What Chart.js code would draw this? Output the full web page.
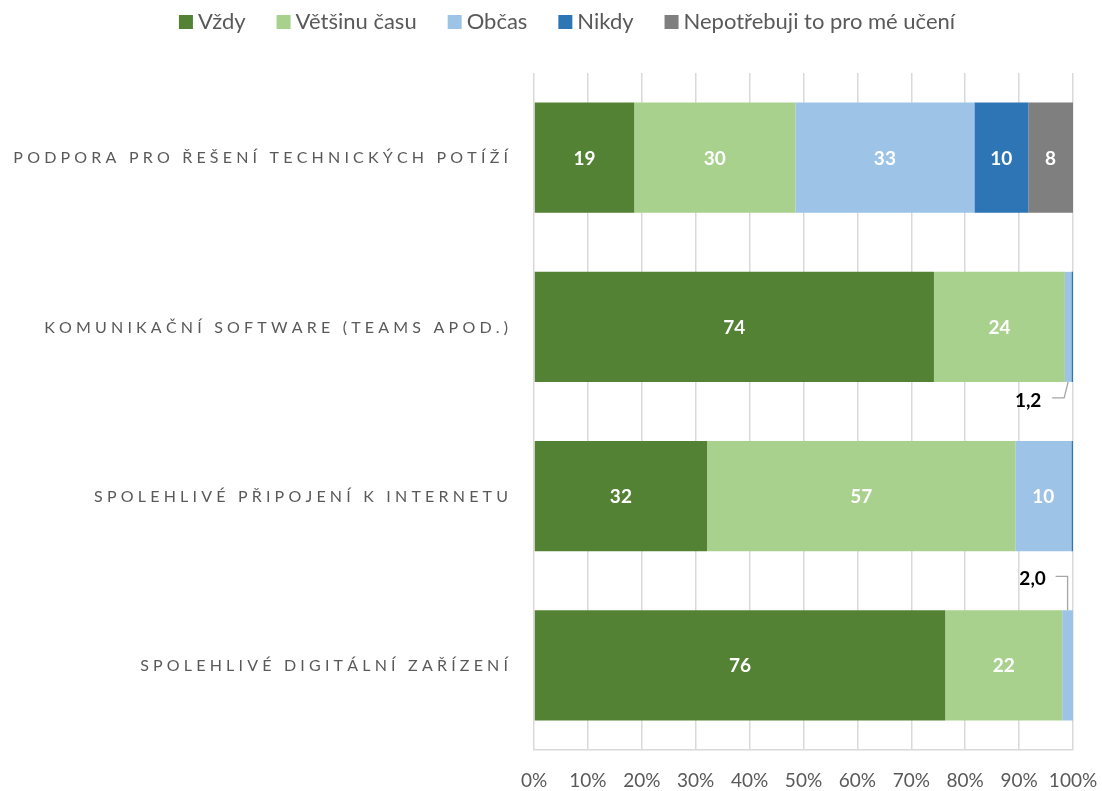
<!DOCTYPE html>
<html lang="cs">
<head>
<meta charset="utf-8">
<title>Podmínky pro online výuku</title>
<script src="https://cdn.jsdelivr.net/npm/chart.js@4.4.1/dist/chart.umd.min.js"></script>
<style>
  html, body { margin: 0; padding: 0; background: #fff; }
</style>
</head>
<body>
<canvas id="myChart" width="1102" height="791"></canvas>
<script>
const kategorie = [
  "PODPORA PRO ŘEŠENÍ TECHNICKÝCH POTÍŽÍ",
  "KOMUNIKAČNÍ SOFTWARE (TEAMS APOD.)",
  "SPOLEHLIVÉ PŘIPOJENÍ K INTERNETU",
  "SPOLEHLIVÉ DIGITÁLNÍ ZAŘÍZENÍ",
];
const rady = ["Vždy", "Většinu času", "Občas", "Nikdy", "Nepotřebuji to pro mé učení"];

// podíly odpovědí v %, pořadí jako kategorie
const vzdy = [18.6, 74.2, 32.1, 76.3];
const vetsinuCasu = [29.9, 24.3, 57.2, 21.7];
const obcas = [33.2, 1.2, 10.4, 2.0];
const nikdy = [10.0, 0.3, 0.3, 0];
const nepotrebuji = [8.3, 0, 0, 0];

const popiskyOsy = ["0%", "10%", "20%", "30%", "40%", "50%", "60%", "70%", "80%", "90%", "100%"];

const barvy = ["#548235", "#A9D18E", "#9DC3E6", "#2E75B6", "#7F7F7F"];
const PISMO = "Lato, 'Noto Sans', sans-serif";
const SEDA_TEXT = "#595959";

// malé hodnoty se popisují mimo pruh s vodicí čarou
const vyvody = [
  { rada: 2, radek: 1, smer: "dolu" },
  { rada: 2, radek: 3, smer: "nahoru" },
];

const grafika = document.getElementById("myChart").getContext("2d");

function jeVyvod(rada, radek) {
  return vyvody.some((v) => v.rada === rada && v.radek === radek);
}

// text s prostrkáním písmen, zarovnaný doprava
function prostrkanyText(ctx, text, pravyOkraj, y, mezera) {
  const sirky = [...text].map((ch) => ctx.measureText(ch).width);
  const celkem = sirky.reduce((a, b) => a + b, 0) + mezera * (sirky.length - 1);
  let x = pravyOkraj - celkem;
  [...text].forEach((ch, i) => {
    ctx.fillText(ch, x, y);
    x += sirky[i] + mezera;
  });
}

const popiskyKategorii = {
  id: "popiskyKategorii",
  afterDraw(chart) {
    const ctx = chart.ctx;
    const osaY = chart.scales.y;
    ctx.save();
    ctx.font = "16px " + PISMO;
    ctx.fillStyle = SEDA_TEXT;
    ctx.textAlign = "left";
    ctx.textBaseline = "alphabetic";
    kategorie.forEach((nazev, i) => {
      const y = osaY.getPixelForValue(i);
      prostrkanyText(ctx, nazev, chart.chartArea.left - 26, y + 5.8, 4.2);
    });
    ctx.restore();
  },
};

const popiskyHodnot = {
  id: "popiskyHodnot",
  afterDatasetsDraw(chart) {
    const ctx = chart.ctx;
    ctx.save();
    ctx.font = "bold 19px " + PISMO;
    ctx.textAlign = "center";
    ctx.textBaseline = "alphabetic";
    chart.data.datasets.forEach((ds, r) => {
      chart.getDatasetMeta(r).data.forEach((el, i) => {
        const v = ds.data[i];
        if (v < 5 || jeVyvod(r, i)) return;
        ctx.fillStyle = "#ffffff";
        ctx.fillText(Math.round(v).toString(), (el.x + el.base) / 2, el.y + 7);
      });
    });

    ctx.strokeStyle = "#a6a6a6";
    ctx.lineWidth = 1.3;
    vyvody.forEach((vv) => {
      const el = chart.getDatasetMeta(vv.rada).data[vv.radek];
      const v = chart.data.datasets[vv.rada].data[vv.radek];
      const cx = (el.x + el.base) / 2;
      const horni = el.y - el.height / 2;
      const dolni = el.y + el.height / 2;
      const text = v.toFixed(1).replace(".", ",");
      ctx.beginPath();
      let tx, ty;
      if (vv.smer === "dolu") {
        const ly = dolni + 16;
        ctx.moveTo(cx - 16, ly);
        ctx.lineTo(cx - 4, ly);
        ctx.lineTo(cx, dolni);
        tx = cx - 40;
        ty = ly + 2;
      } else {
        const ly = horni - 34;
        ctx.moveTo(cx - 12, ly);
        ctx.lineTo(cx, ly);
        ctx.lineTo(cx, horni);
        tx = cx - 35;
        ty = ly + 1.5;
      }
      ctx.stroke();
      ctx.fillStyle = "#000000";
      ctx.fillText(text, tx, ty + 7);
    });
    ctx.restore();
  },
};

// legenda nad grafem
const legenda = {
  id: "legenda",
  afterDraw(chart) {
    const ctx = chart.ctx;
    const box = 14, mezeraText = 5, mezeraPolozky = 31;
    ctx.save();
    ctx.font = "22px " + PISMO;
    ctx.textBaseline = "middle";
    ctx.textAlign = "left";
    const polozky = chart.data.datasets.map((ds) => ({
      text: ds.label,
      barva: ds.backgroundColor,
      sirka: box + mezeraText + ctx.measureText(ds.label).width,
    }));
    const celkem = polozky.reduce((a, p) => a + p.sirka, 0) + mezeraPolozky * (polozky.length - 1);
    let x = 567 - celkem / 2;
    const y = 22;
    polozky.forEach((p) => {
      ctx.fillStyle = p.barva;
      ctx.fillRect(x, y - box / 2, box, box);
      ctx.fillStyle = SEDA_TEXT;
      ctx.fillText(p.text, x + box + mezeraText, y);
      x += p.sirka + mezeraPolozky;
    });
    ctx.restore();
  },
};

const hodnoty = [vzdy, vetsinuCasu, obcas, nikdy, nepotrebuji];

const myChart = new Chart(grafika, {
  type: "bar",
  data: {
    labels: kategorie,
    datasets: rady.map((nazev, i) => ({
      label: nazev,
      data: hodnoty[i],
      backgroundColor: barvy[i],
      borderWidth: 0,
      barPercentage: 0.65,
      categoryPercentage: 1,
    })),
  },
  options: {
    indexAxis: "y",
    responsive: false,
    animation: false,
    devicePixelRatio: 1,
    layout: {
      padding: { top: 73, right: 29, bottom: 0, left: 0 },
    },
    plugins: {
      legend: { display: false },
      tooltip: { enabled: false },
    },
    scales: {
      x: {
        stacked: true,
        min: 0,
        max: 100,
        afterFit(scale) {
          scale.height = 41;
          // okrajové popisky se vejdou do okraje grafu
          scale.paddingLeft = 0;
          scale.paddingRight = 0;
        },
        grid: {
          color: "#d9d9d9",
          lineWidth: 1.5,
          drawTicks: false,
        },
        border: { display: true, color: "#d9d9d9", width: 1.5 },
        ticks: {
          stepSize: 10,
          autoSkip: false,
          maxRotation: 0,
          padding: 19,
          color: SEDA_TEXT,
          font: { family: PISMO, size: 19 },
          callback: (v, i) => popiskyOsy[i],
        },
      },
      y: {
        stacked: true,
        afterFit(scale) {
          scale.width = 534;
        },
        grid: { display: false },
        border: { display: false },
        ticks: { display: false },
      },
    },
  },
  plugins: [popiskyHodnot, popiskyKategorii, legenda],
});
</script>
</body>
</html>
